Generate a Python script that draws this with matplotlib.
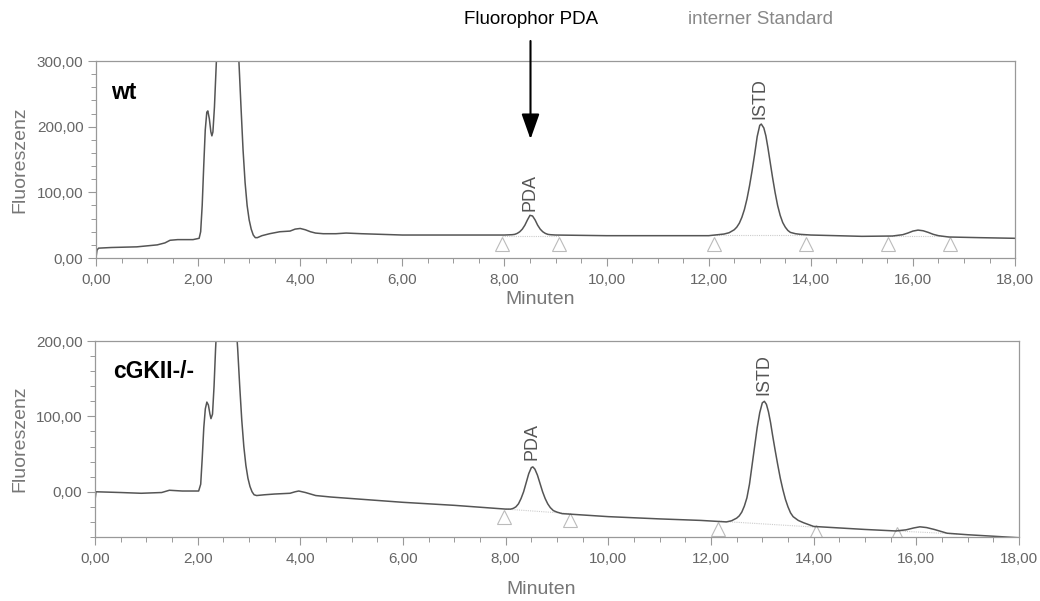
import numpy as np
import matplotlib
matplotlib.use('Agg')
import matplotlib.pyplot as plt
from matplotlib.ticker import MultipleLocator, FuncFormatter

plt.rcParams['font.family'] = ['Liberation Sans', 'DejaVu Sans']

# Chromatogram wt (time in min, fluorescence)
wt_time = [0.00, 0.02, 0.05, 0.3, 0.8, 1.2, 1.35, 1.45, 1.6, 1.9,
           2.02, 2.05, 2.08, 2.11, 2.14, 2.17, 2.19, 2.22, 2.25, 2.27, 2.29, 2.32, 2.35, 2.38,
           2.45, 2.55, 2.65, 2.72, 2.76, 2.80, 2.84, 2.88, 2.92, 2.96, 3.00, 3.04, 3.08,
           3.12, 3.16, 3.25, 3.4, 3.6, 3.8, 3.9, 4.0, 4.1, 4.2, 4.3, 4.45,
           4.7, 4.9, 5.2, 6.0, 7.0, 8.0, 8.15, 8.2, 8.25, 8.3, 8.35, 8.4, 8.45, 8.5, 8.55,
           8.6, 8.65, 8.7, 8.75, 8.8, 8.85, 8.9, 9.0, 10.0, 11.0, 12.0,
           12.3, 12.4, 12.5, 12.55, 12.6, 12.65, 12.7, 12.75, 12.8, 12.85, 12.9, 12.95,
           13.0, 13.03, 13.08, 13.12, 13.16, 13.2, 13.25, 13.3, 13.35, 13.4, 13.45, 13.5,
           13.55, 13.6, 13.7, 13.8, 14.0, 14.5, 15.0, 15.6, 15.8, 15.9, 16.0, 16.1,
           16.2, 16.3, 16.4, 16.5, 16.6, 16.7, 17.3, 18.0]
wt_signal = [0, 12, 15, 16, 17, 20, 23, 27, 28, 28,
             30, 40, 80, 140, 195, 222, 224, 212, 192, 186, 192, 230, 285, 340,
             600, 800, 600, 420, 340, 298, 230, 165, 115, 80, 58, 44, 35,
             31, 31, 34, 37, 40, 41, 44, 45, 43, 40, 38, 37,
             37, 38, 37, 35, 35, 35, 35.5, 36, 37.5, 40, 44, 50, 58, 65, 64,
             58, 50, 44, 40, 37.5, 36, 35.5, 35, 34, 34, 34,
             36.5, 38.5, 43, 47, 53, 62, 74, 90, 110, 133, 158, 185,
             202, 204, 198, 186, 168, 148, 123, 100, 80, 65, 54, 47,
             42, 39, 37, 36, 35, 34, 33, 33.5, 35.5, 38, 41, 42.5,
             41.5, 39, 36, 34, 33, 32, 31, 30]

# Chromatogram cGKII-/-
ko_time = [0.00, 0.02, 0.5, 0.9, 1.3, 1.45, 1.7, 2.0,
           2.02, 2.06, 2.09, 2.12, 2.15, 2.18, 2.21, 2.24, 2.26, 2.29, 2.32, 2.35, 2.38,
           2.45, 2.55, 2.65, 2.74, 2.78, 2.82, 2.86, 2.90, 2.94, 2.98, 3.02, 3.06, 3.10,
           3.15, 3.3, 3.5, 3.8, 3.9, 3.97, 4.1, 4.3, 4.6, 5.0, 6.0, 7.0,
           8.0, 8.1, 8.15, 8.2, 8.25, 8.3, 8.35, 8.4, 8.45, 8.5, 8.53, 8.57, 8.62, 8.67,
           8.72, 8.77, 8.82, 8.87, 8.93, 9.0, 9.1, 10.0, 11.0, 11.8,
           12.3, 12.4, 12.5, 12.55, 12.6, 12.65, 12.7, 12.75, 12.8, 12.85, 12.9, 12.95,
           13.0, 13.04, 13.08, 13.12, 13.16, 13.2, 13.25, 13.3, 13.35, 13.4, 13.45, 13.5,
           13.55, 13.6, 13.7, 13.8, 14.0, 15.0, 15.6, 15.8, 15.95, 16.07, 16.2, 16.35,
           16.6, 17.0, 17.5, 18.0]
ko_signal = [-12, 0, -1, -2, -1, 2, 1, 1,
             1, 10, 45, 85, 110, 119, 115, 103, 97, 103, 140, 190, 230,
             500, 700, 500, 230, 190, 140, 95, 60, 35, 18, 7, 0, -4,
             -5, -4, -3, -2, 0, 1, -1, -5, -7, -9, -14, -18,
             -23, -23, -22, -20, -16, -9, 0, 12, 24, 32, 33, 30, 22, 11,
             0, -9, -16, -21, -25, -27, -29, -33, -36, -38,
             -40, -38.5, -35, -32, -27, -19, -8, 10, 35, 60, 85, 105,
             118, 120, 116, 106, 92, 75, 55, 36, 18, 3, -10, -20,
             -28, -33, -38, -41, -46, -50, -52, -50.5, -48, -46.5, -47.5, -50,
             -55, -57, -59, -61]

# integration markers (triangles) and baselines
wt_marks_t = [7.95, 9.07, 12.1, 13.9, 15.52, 16.72]
wt_marks_y = [21, 21, 21, 21, 21, 21]
ko_marks_t = [7.97, 9.25, 12.14, 14.05, 15.62]
ko_marks_y = [-33, -37, -49, -53, -56]
wt_base = [((7.95, 9.07), (34, 34)), ((12.1, 13.9), (34.5, 34.5)), ((15.5, 16.7), (33, 33))]
ko_base = [((8.0, 9.25), (-23, -29)), ((12.15, 14.05), (-39, -47)), ((15.6, 16.8), (-52, -56))]

# peak labels: (name, time, value)
wt_peaks = [('PDA', 8.51, 72), ('ISTD', 13.0, 212)]
ko_peaks = [('PDA', 8.51, 42), ('ISTD', 13.03, 128)]

FRAME = '#999999'
TRACE = '#555555'
LABEL = '#777777'


def comma_fmt(v, pos):
    return ('%.2f' % v).replace('.', ',')


def style_axis(ax, ylim, ymajor):
    ax.set_xlim(0, 18)
    ax.set_ylim(*ylim)
    ax.xaxis.set_major_locator(MultipleLocator(2))
    ax.xaxis.set_minor_locator(MultipleLocator(0.5))
    ax.yaxis.set_major_locator(MultipleLocator(ymajor))
    ax.yaxis.set_minor_locator(MultipleLocator(20))
    ax.xaxis.set_major_formatter(FuncFormatter(comma_fmt))
    ax.yaxis.set_major_formatter(FuncFormatter(comma_fmt))
    for s in ax.spines.values():
        s.set_color(FRAME)
        s.set_linewidth(0.9)
    ax.tick_params(which='major', length=6, width=0.8, color=FRAME,
                   labelsize=11, labelcolor='#666666', pad=3)
    ax.tick_params(which='minor', length=3.5, width=0.7, color=FRAME)
    ax.tick_params(axis='x', which='major', pad=5)
    ax.set_xlabel('Minuten', fontsize=14, color=LABEL)
    ax.set_ylabel('Fluoreszenz', fontsize=14, color=LABEL)
    ax.xaxis.label.set_va('center')
    ax.yaxis.label.set_va('center')


def draw_trace(ax, t, y, marks_t, marks_y, bases, peaks):
    for (bx, by) in bases:
        ax.plot(bx, by, color='#cccccc', lw=0.8, ls=(0, (1, 1)))
    ax.plot(marks_t, marks_y, ls='none', marker='^', markersize=10,
            markerfacecolor='none', markeredgecolor='#bbbbbb', markeredgewidth=0.8)
    ax.plot(t, y, color=TRACE, lw=1.1)
    for name, pt, pv in peaks:
        ax.text(pt, pv, name, rotation=90, ha='center', va='bottom',
                fontsize=13, color='#555555')


fig = plt.figure(figsize=(10.4, 6.01), dpi=100)
ax1 = fig.add_axes([0.0923, 0.5707, 0.8837, 0.3278])
ax2 = fig.add_axes([0.0913, 0.1065, 0.8885, 0.3261])

style_axis(ax1, (0, 300), 100)
style_axis(ax2, (-60, 200), 100)
draw_trace(ax1, wt_time, wt_signal, wt_marks_t, wt_marks_y, wt_base, wt_peaks)
draw_trace(ax2, ko_time, ko_signal, ko_marks_t, ko_marks_y, ko_base, ko_peaks)

ax1.xaxis.set_label_coords(0.483, -0.213)
ax1.yaxis.set_label_coords(-0.083, 0.5)
ax2.xaxis.set_label_coords(0.483, -0.27)
ax2.yaxis.set_label_coords(-0.081, 0.5)

ax1.text(0.016, 0.84, 'wt', transform=ax1.transAxes, fontsize=16.5,
         fontweight='bold', color='black', ha='left', va='center')
ax2.text(0.0195, 0.842, 'cGKII-/-', transform=ax2.transAxes, fontsize=16.5,
         fontweight='bold', color='black', ha='left', va='center')

fig.text(0.511, 1 - 20 / 601, 'Fluorophor PDA', fontsize=13.5, color='black',
         ha='center', va='center')
fig.text(0.731, 1 - 19 / 601, 'interner Standard', fontsize=13.5, color='#888888',
         ha='center', va='center')
ax1.annotate('', xy=(8.51, 181), xycoords='data',
             xytext=(8.51, 1 - 41 / 601), textcoords=('data', 'figure fraction'),
             arrowprops=dict(arrowstyle='-|>,head_width=0.55,head_length=1.55',
                             color='black', lw=1.5, shrinkA=0, shrinkB=0),
             annotation_clip=False)

fig.savefig('out.png', dpi=100)
